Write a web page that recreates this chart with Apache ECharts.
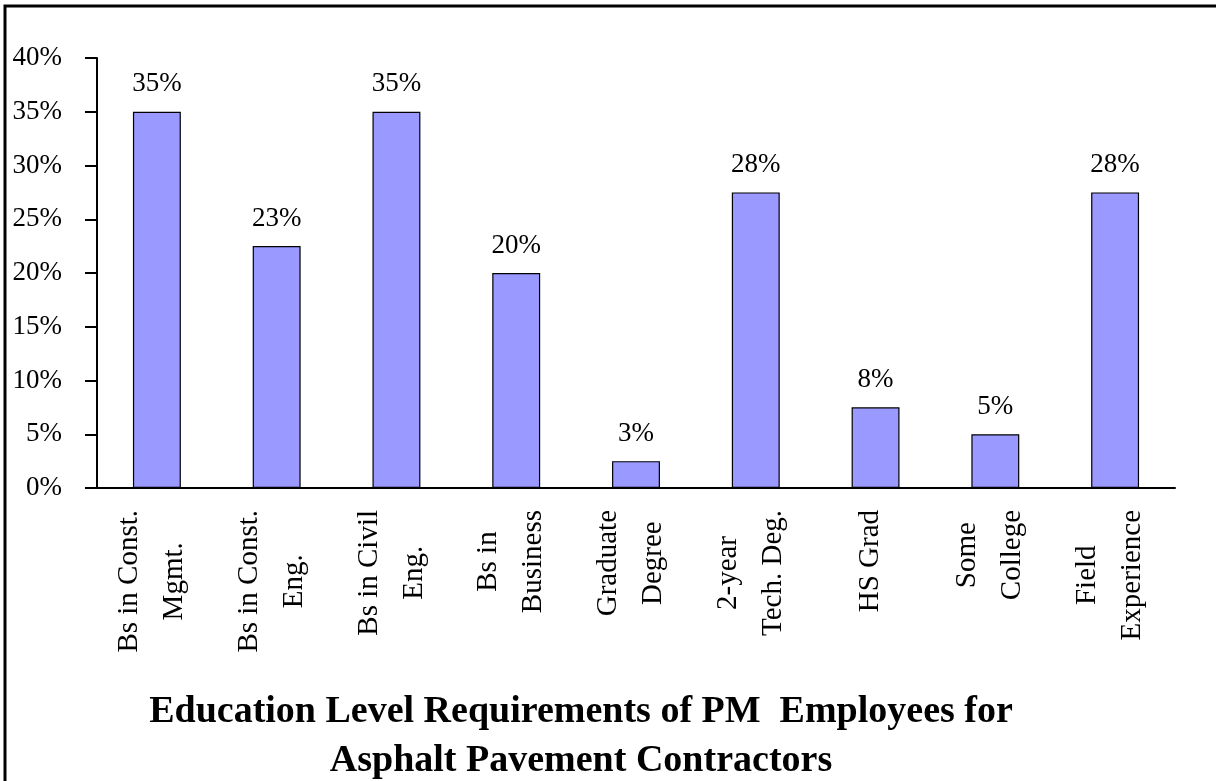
<!DOCTYPE html>
<html>
<head>
<meta charset="utf-8">
<script src="https://cdn.jsdelivr.net/npm/echarts@6/dist/echarts.min.js"></script>
<style>
  html, body { margin: 0; padding: 0; background: #fff; }
  #chart { width: 1216px; height: 781px; }
</style>
</head>
<body>
<div id="chart"></div>
<script>
const categories = [
  "Bs in Const.\nMgmt.",
  "Bs in Const.\nEng.",
  "Bs in Civil\nEng.",
  "Bs in\nBusiness",
  "Graduate\nDegree",
  "2-year\nTech. Deg.",
  "HS Grad",
  "Some\nCollege",
  "Field\nExperience",
];
const shares = [35, 22.5, 35, 20, 2.5, 27.5, 7.5, 5, 27.5];
const yTicks = [0, 5, 10, 15, 20, 25, 30, 35, 40];

const serif = "'Liberation Serif', 'Times New Roman', serif";

const chart = echarts.init(document.getElementById("chart"));

chart.setOption({
  backgroundColor: "#fff",
  animation: false,
  grid: {
    left: 97,
    right: 41,
    top: 58,
    bottom: 293,
  },
  xAxis: {
    type: "category",
    data: categories,
    axisLine: { lineStyle: { color: "#000", width: 2 } },
    axisTick: { length: 10, lineStyle: { color: "#000", width: 2 } },
    axisLabel: {
      interval: 0,
      rotate: 90,
      margin: 22,
      color: "#000",
      fontFamily: serif,
      fontSize: 29,
      lineHeight: 45,
      // nudges the rotated block a little left, as in the original
      padding: [0, 0, 10, 0],
      // center each line inside the rotated block
      formatter: (v) => v.split("\n").map((s) => "{c|" + s + "}").join("\n"),
      rich: {
        c: {
          align: "center",
          fontFamily: serif,
          fontSize: 29,
          lineHeight: 45,
          color: "#000",
        },
      },
    },
  },
  yAxis: {
    type: "value",
    min: yTicks[0],
    max: yTicks[yTicks.length - 1],
    interval: yTicks[1] - yTicks[0],
    splitLine: { show: false },
    axisLine: { show: true, lineStyle: { color: "#000", width: 2 } },
    axisTick: { show: true, length: 12, lineStyle: { color: "#000", width: 2 } },
    axisLabel: {
      margin: 35,
      color: "#000",
      fontFamily: serif,
      fontSize: 27,
      formatter: "{value}%",
    },
  },
  series: [
    {
      type: "bar",
      data: shares,
      barWidth: "40%",
      itemStyle: {
        color: "#9999FF",
        borderColor: "#000",
        borderWidth: 1.2,
      },
      label: {
        show: true,
        position: "top",
        distance: 14,
        color: "#000",
        fontFamily: serif,
        fontSize: 27,
        formatter: (p) => Math.round(p.value) + "%",
      },
    },
  ],
  graphic: [
    {
      type: "rect",
      silent: true,
      shape: { x: 5, y: 6, width: 1300, height: 900 },
      style: { fill: "none", stroke: "#000", lineWidth: 3 },
    },
    {
      type: "text",
      silent: true,
      x: 581,
      y: 688,
      style: {
        text: "Education Level Requirements of PM  Employees for\nAsphalt Pavement Contractors",
        fill: "#000",
        font: "bold 38px " + serif,
        lineHeight: 49,
        align: "center",
        verticalAlign: "top",
      },
    },
  ],
});
</script>
</body>
</html>
